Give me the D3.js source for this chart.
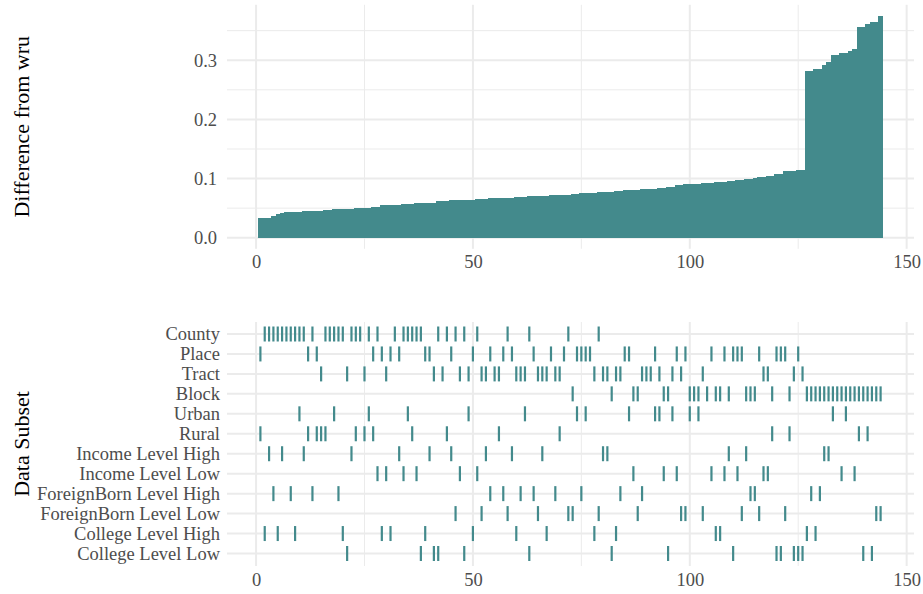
<!DOCTYPE html>
<html>
<head>
<meta charset="utf-8">
<script src="https://cdn.jsdelivr.net/npm/d3@7"></script>
<style>
  body { margin: 0; background: #fff; }
  text { font-family: "Liberation Serif", "Times New Roman", serif; }
</style>
</head>
<body>
<div id="chart"></div>
<script>
// sorted difference from wru, one value per model run (rank 1..144)
var diffValues = [
  0.033, 0.034, 0.034, 0.037, 0.040, 0.042, 0.043, 0.043, 0.044, 0.044,
  0.045, 0.045, 0.046, 0.046, 0.046, 0.047, 0.047, 0.048, 0.048, 0.049,
  0.049, 0.049, 0.050, 0.050, 0.051, 0.051, 0.052, 0.052, 0.055, 0.055,
  0.056, 0.056, 0.056, 0.057, 0.057, 0.057, 0.058, 0.058, 0.058, 0.059,
  0.059, 0.062, 0.062, 0.062, 0.063, 0.063, 0.063, 0.064, 0.064, 0.064,
  0.065, 0.065, 0.065, 0.067, 0.067, 0.067, 0.068, 0.068, 0.068, 0.069,
  0.069, 0.069, 0.070, 0.070, 0.070, 0.071, 0.071, 0.072, 0.072, 0.072,
  0.073, 0.073, 0.074, 0.074, 0.075, 0.075, 0.076, 0.076, 0.077, 0.077,
  0.078, 0.078, 0.079, 0.079, 0.080, 0.080, 0.081, 0.081, 0.082, 0.082,
  0.083, 0.083, 0.084, 0.084, 0.085, 0.085, 0.089, 0.089, 0.090, 0.090,
  0.091, 0.091, 0.092, 0.092, 0.093, 0.094, 0.094, 0.095, 0.096, 0.096,
  0.097, 0.098, 0.099, 0.100, 0.101, 0.102, 0.103, 0.104, 0.105, 0.107,
  0.107, 0.112, 0.113, 0.113, 0.114, 0.114, 0.282, 0.282, 0.286, 0.286,
  0.292, 0.297, 0.309, 0.309, 0.313, 0.313, 0.315, 0.319, 0.356, 0.356,
  0.362, 0.364, 0.364, 0.374
];

var subsetNames = ["County", "Place", "Tract", "Block", "Urban", "Rural",
  "Income Level High", "Income Level Low", "ForeignBorn Level High",
  "ForeignBorn Level Low", "College Level High", "College Level Low"];

// ranks that belong to each subset
var county = [2, 3, 4, 5, 6, 7, 8, 9, 10, 11, 13, 16, 17, 18, 19, 20, 22, 23, 24, 26,
  28, 32, 34, 35, 36, 37, 38, 42, 44, 46, 48, 51, 58, 63, 72, 79];
var place = [1, 12, 14, 27, 29, 31, 33, 39, 40, 45, 50, 54, 57, 59, 64, 68, 71, 74, 75, 76,
  77, 85, 86, 92, 97, 99, 105, 108, 110, 111, 112, 116, 120, 121, 122, 125];
var tract = [15, 21, 25, 30, 41, 43, 47, 49, 52, 53, 55, 56, 60, 61, 62, 65, 66, 67, 69, 70,
  78, 80, 81, 83, 84, 89, 90, 91, 93, 96, 98, 103, 117, 118, 124, 126];
var block = [73, 82, 87, 88, 94, 95, 100, 101, 102, 104, 106, 107, 109, 113, 114, 115, 119, 123,
  127, 128, 129, 130, 131, 132, 133, 134, 135, 136, 137, 138, 139, 140, 141, 142, 143, 144];
var urban = [10, 18, 26, 35, 49, 62, 74, 76, 86, 92, 93, 96, 100, 102, 133, 136];
var rural = [1, 12, 14, 15, 16, 23, 25, 27, 36, 44, 56, 70, 119, 123, 139, 141];
var incomeHigh = [3, 6, 11, 22, 33, 40, 45, 53, 59, 66, 80, 81, 109, 113, 131, 132];
var incomeLow = [28, 30, 34, 37, 47, 51, 87, 94, 97, 105, 108, 111, 117, 118, 135, 138];
var foreignHigh = [4, 8, 13, 19, 54, 57, 61, 64, 69, 75, 84, 89, 114, 115, 128, 130];
var foreignLow = [46, 52, 58, 65, 72, 73, 79, 88, 98, 99, 103, 112, 116, 122, 143, 144];
var collegeHigh = [2, 5, 9, 20, 29, 31, 39, 50, 60, 67, 78, 83, 106, 107, 127, 129];
var collegeLow = [21, 38, 41, 42, 48, 63, 82, 95, 110, 120, 121, 124, 125, 126, 140, 142];

var xTicks = [0, 50, 100, 150];
var xMinor = [25, 75, 125];
var yTicks = [0, 0.1, 0.2, 0.3];
var yMinor = [0.05, 0.15, 0.25, 0.35];

var width = 923, height = 594;
var teal = "#438a8c", grid = "#ebebeb";

var memberRows = [county, place, tract, block, urban, rural, incomeHigh, incomeLow,
  foreignHigh, foreignLow, collegeHigh, collegeLow];
var marks = [];
memberRows.forEach(function(ranks, r) {
  ranks.forEach(function(k) { marks.push({ subset: subsetNames[r], rank: k }); });
});

var svg = d3.select("#chart").append("svg")
    .attr("width", width)
    .attr("height", height);

var x = d3.scaleLinear().domain([-6.7, 151.7]).range([227, 914]);

// ---- top panel: bars ----
var upper = { t: 4.8, b: 248.8 };
var y = d3.scaleLinear().domain([-0.0187, 0.3937]).range([upper.b, upper.t]);

var g1 = svg.append("g");
g1.selectAll(".ymin").data(yMinor).enter().append("line")
    .attr("x1", 227).attr("x2", 914)
    .attr("y1", y).attr("y2", y)
    .attr("stroke", grid).attr("stroke-width", 1);
g1.selectAll(".xmin").data(xMinor).enter().append("line")
    .attr("x1", x).attr("x2", x)
    .attr("y1", upper.t).attr("y2", upper.b)
    .attr("stroke", grid).attr("stroke-width", 1);
g1.selectAll(".ymaj").data(yTicks).enter().append("line")
    .attr("x1", 227).attr("x2", 914)
    .attr("y1", y).attr("y2", y)
    .attr("stroke", grid).attr("stroke-width", 2);
g1.selectAll(".xmaj").data(xTicks).enter().append("line")
    .attr("x1", x).attr("x2", x)
    .attr("y1", upper.t).attr("y2", upper.b)
    .attr("stroke", grid).attr("stroke-width", 2);

g1.selectAll(".bar").data(diffValues).enter().append("rect")
    .attr("x", function(d, i) { return x(i + 0.5); })
    .attr("width", function(d, i) { return x(i + 1.5) - x(i + 0.5) + 0.6; })
    .attr("y", function(d) { return y(d); })
    .attr("height", function(d) { return y(0) - y(d); })
    .attr("fill", teal)
    .attr("shape-rendering", "crispEdges");

g1.append("g")
    .attr("transform", "translate(227,0)")
    .call(d3.axisLeft(y).tickValues(yTicks).tickSize(0).tickPadding(10).tickFormat(d3.format(".1f")));
g1.append("g")
    .attr("transform", "translate(0," + upper.b + ")")
    .call(d3.axisBottom(x).tickValues(xTicks).tickSize(0).tickPadding(6));

g1.append("text")
    .attr("transform", "translate(29," + ((upper.t + upper.b) / 2) + ") rotate(-90)")
    .attr("text-anchor", "middle")
    .style("font-size", "22px")
    .text("Difference from wru");

// ---- bottom panel: subset membership ----
var lower = { t: 322, b: 566 };
var ys = d3.scalePoint().domain(subsetNames).range([334, 553.5]);

var g2 = svg.append("g");
g2.selectAll(".xmin").data(xMinor).enter().append("line")
    .attr("x1", x).attr("x2", x)
    .attr("y1", lower.t).attr("y2", lower.b)
    .attr("stroke", grid).attr("stroke-width", 1);
g2.selectAll(".rowline").data(subsetNames).enter().append("line")
    .attr("x1", 227).attr("x2", 914)
    .attr("y1", ys).attr("y2", ys)
    .attr("stroke", grid).attr("stroke-width", 2);
g2.selectAll(".xmaj").data(xTicks).enter().append("line")
    .attr("x1", x).attr("x2", x)
    .attr("y1", lower.t).attr("y2", lower.b)
    .attr("stroke", grid).attr("stroke-width", 2);

g2.selectAll(".mark").data(marks).enter().append("line")
    .attr("x1", function(d) { return x(d.rank); })
    .attr("x2", function(d) { return x(d.rank); })
    .attr("y1", function(d) { return ys(d.subset) - 7.5; })
    .attr("y2", function(d) { return ys(d.subset) + 7.5; })
    .attr("stroke", teal)
    .attr("stroke-width", 2.2);

g2.append("g")
    .attr("transform", "translate(227,0)")
    .call(d3.axisLeft(ys).tickSize(0).tickPadding(7));
g2.append("g")
    .attr("transform", "translate(0," + lower.b + ")")
    .call(d3.axisBottom(x).tickValues(xTicks).tickSize(0).tickPadding(7));

g2.append("text")
    .attr("transform", "translate(29," + ((lower.t + lower.b) / 2) + ") rotate(-90)")
    .attr("text-anchor", "middle")
    .style("font-size", "22px")
    .text("Data Subset");

svg.selectAll(".domain").remove();
svg.selectAll(".tick text")
    .attr("fill", "#4d4d4d")
    .style("font-family", "'Liberation Serif', serif")
    .style("font-size", "18.5px");
</script>
</body>
</html>
